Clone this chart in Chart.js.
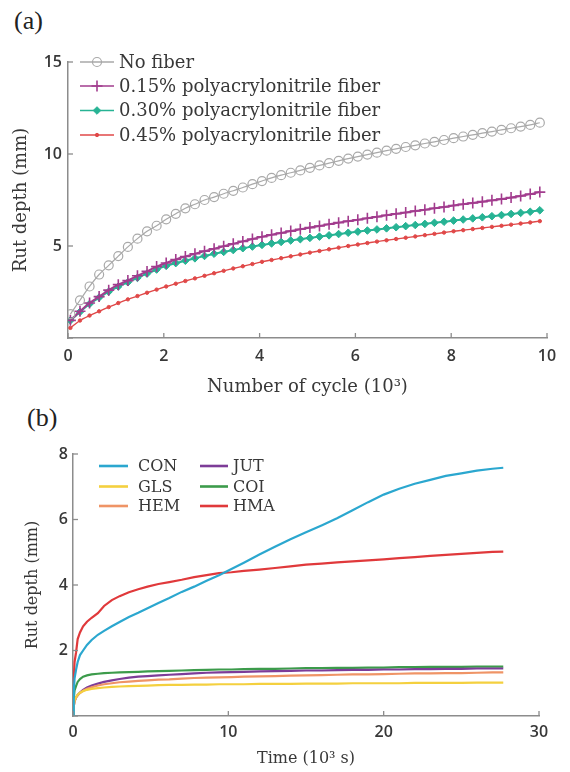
<!DOCTYPE html>
<html>
<head>
<meta charset="utf-8">
<script src="https://cdn.jsdelivr.net/npm/chart.js@4.4.1/dist/chart.umd.min.js"></script>
<style>
  html, body { margin: 0; padding: 0; background: #fff; }
  body { width: 570px; height: 772px; position: relative; overflow: hidden; }
  canvas { position: absolute; left: 0; }
  #cA { top: 0; }
  #cB { top: 400px; }
  .tag { position: absolute; font-family: "Liberation Serif", serif; font-size: 26px; line-height: 1; color: #222; }
</style>
</head>
<body>
<div class="tag" style="left:14px; top:8px;">(a)</div>
<div class="tag" style="left:27px; top:405px;">(b)</div>
<canvas id="cA" width="570" height="400"></canvas>
<canvas id="cB" width="570" height="372"></canvas>
<script>
// ---------- Chart (a) data ----------
const cycleX = [0.05,0.25,0.45,0.65,0.85,1.05,1.25,1.45,1.65,1.85,2.05,2.25,2.45,2.65,2.85,3.05,3.25,3.45,3.65,3.85,4.05,4.25,4.45,4.65,4.85,5.05,5.25,5.45,5.65,5.85,6.05,6.25,6.45,6.65,6.85,7.05,7.25,7.45,7.65,7.85,8.05,8.25,8.45,8.65,8.85,9.05,9.25,9.45,9.65,9.85];
const noFiber = [1.30,2.05,2.80,3.45,3.95,4.45,4.95,5.40,5.80,6.10,6.45,6.75,7.05,7.27,7.50,7.66,7.84,8.00,8.18,8.36,8.53,8.70,8.85,8.98,9.11,9.25,9.38,9.50,9.63,9.75,9.86,9.97,10.07,10.18,10.28,10.38,10.47,10.57,10.66,10.76,10.86,10.95,11.04,11.13,11.22,11.31,11.40,11.49,11.58,11.70];
const pan015 = [0.96,1.45,1.90,2.25,2.60,2.90,3.12,3.38,3.62,3.88,4.08,4.27,4.43,4.58,4.72,4.85,4.99,5.12,5.25,5.38,5.50,5.61,5.71,5.81,5.91,6.00,6.09,6.18,6.27,6.35,6.43,6.51,6.59,6.67,6.75,6.82,6.90,6.97,7.05,7.12,7.20,7.27,7.34,7.41,7.48,7.55,7.63,7.72,7.82,7.93];
const pan030 = [0.96,1.42,1.85,2.20,2.52,2.80,3.03,3.27,3.50,3.72,3.92,4.07,4.20,4.33,4.46,4.58,4.68,4.78,4.88,4.97,5.06,5.14,5.22,5.30,5.37,5.44,5.51,5.58,5.65,5.72,5.78,5.84,5.90,5.96,6.02,6.08,6.14,6.20,6.26,6.32,6.38,6.44,6.50,6.56,6.62,6.68,6.74,6.80,6.86,6.94];
const pan045 = [0.55,0.95,1.22,1.45,1.68,1.90,2.10,2.28,2.46,2.63,2.80,2.95,3.10,3.24,3.38,3.52,3.65,3.78,3.90,4.02,4.14,4.24,4.34,4.44,4.54,4.64,4.73,4.82,4.91,5.00,5.08,5.16,5.24,5.31,5.38,5.45,5.52,5.59,5.66,5.73,5.80,5.86,5.92,5.98,6.04,6.10,6.16,6.22,6.28,6.35];
const seriesA = ["No fiber","0.15% polyacrylonitrile fiber","0.30% polyacrylonitrile fiber","0.45% polyacrylonitrile fiber"];
const ticksAX = [0,2,4,6,8,10];
const ticksAY = [0,5,10,15];

// ---------- Chart (b) data ----------
const timeX = [0,0.05,0.1,0.2,0.3,0.45,0.65,0.9,1.2,1.6,2.0,2.5,3.0,3.6,4.2,4.8,5.5,6.2,7.0,7.8,8.6,9.4,10.2,11,12,13,14,15,16,17,18,19,20,21,22,23,24,25,26,27,27.7];
const CON = [0,0.75,1.15,1.42,1.65,1.86,2.00,2.17,2.32,2.48,2.60,2.74,2.87,3.02,3.15,3.29,3.45,3.60,3.79,3.95,4.13,4.30,4.49,4.68,4.93,5.17,5.40,5.61,5.82,6.04,6.28,6.53,6.76,6.94,7.09,7.21,7.33,7.41,7.49,7.55,7.58];
const GLS = [0,0.32,0.48,0.58,0.65,0.71,0.76,0.80,0.83,0.85,0.87,0.89,0.90,0.91,0.92,0.93,0.94,0.95,0.95,0.96,0.96,0.97,0.97,0.97,0.98,0.98,0.98,0.99,0.99,0.99,1.00,1.00,1.00,1.00,1.01,1.01,1.01,1.01,1.02,1.02,1.02];
const HEM = [0,0.30,0.45,0.56,0.63,0.70,0.77,0.83,0.88,0.93,0.97,1.00,1.03,1.05,1.07,1.09,1.11,1.12,1.14,1.16,1.17,1.18,1.19,1.20,1.21,1.22,1.23,1.24,1.25,1.26,1.27,1.27,1.28,1.29,1.30,1.30,1.31,1.31,1.32,1.33,1.33];
const JUT = [0,0.30,0.45,0.57,0.64,0.72,0.80,0.87,0.93,0.99,1.04,1.09,1.13,1.17,1.20,1.22,1.24,1.26,1.28,1.30,1.32,1.33,1.34,1.35,1.36,1.37,1.38,1.39,1.39,1.40,1.41,1.41,1.42,1.42,1.43,1.43,1.44,1.44,1.45,1.45,1.45];
const COI = [0,0.55,0.78,0.92,1.04,1.13,1.20,1.24,1.27,1.29,1.31,1.32,1.33,1.34,1.35,1.36,1.37,1.38,1.39,1.40,1.41,1.42,1.42,1.43,1.44,1.44,1.45,1.46,1.46,1.47,1.47,1.48,1.48,1.49,1.49,1.50,1.50,1.50,1.51,1.51,1.51];
const HMA = [0,1.10,1.65,1.95,2.35,2.55,2.74,2.88,3.00,3.14,3.36,3.54,3.66,3.78,3.87,3.95,4.03,4.09,4.16,4.24,4.30,4.36,4.39,4.43,4.47,4.52,4.57,4.62,4.65,4.69,4.72,4.75,4.78,4.82,4.85,4.89,4.92,4.95,4.98,5.01,5.02];
const seriesB = ["CON","GLS","HEM","JUT","COI","HMA"];
const ticksBX = [0,10,20,30];
const ticksBY = [0,2,4,6,8];

// ---------- helpers ----------
const AXIS_COLOR = '#8c8c8c';
const TEXT_COLOR = '#383838';
const SERIF = '"DejaVu Serif", serif';
const SANS = '"Open Sans", sans-serif';

function pts(xs, ys) { return xs.map((x, i) => ({ x: x, y: ys[i] })); }

const inwardTicks = {
  id: 'inwardTicks',
  afterDraw(chart, args, opts) {
    const ctx = chart.ctx, a = chart.chartArea;
    const len = opts.len || 5;
    ctx.save();
    ctx.strokeStyle = AXIS_COLOR;
    ctx.lineWidth = 1.3;
    chart.scales.x.ticks.forEach(t => {
      const px = chart.scales.x.getPixelForValue(t.value);
      ctx.beginPath(); ctx.moveTo(px, a.bottom); ctx.lineTo(px, a.bottom - len); ctx.stroke();
    });
    chart.scales.y.ticks.forEach(t => {
      const py = chart.scales.y.getPixelForValue(t.value);
      ctx.beginPath(); ctx.moveTo(a.left, py); ctx.lineTo(a.left + len, py); ctx.stroke();
    });
    ctx.restore();
  }
};

const insideLegend = {
  id: 'insideLegend',
  afterDraw(chart, args, o) {
    if (!o || !o.items) return;
    const ctx = chart.ctx;
    ctx.save();
    ctx.font = o.font;
    ctx.textBaseline = 'middle';
    ctx.textAlign = 'left';
    chart.data.datasets.forEach((ds, i) => {
      const it = o.items[i];
      ctx.strokeStyle = ds.borderColor;
      ctx.lineWidth = o.lineWidth;
      ctx.beginPath(); ctx.moveTo(it.x0, it.y); ctx.lineTo(it.x1, it.y); ctx.stroke();
      if (o.markers && ds.pointRadius > 0) {
        ctx.fillStyle = ds.pointBackgroundColor;
        ctx.strokeStyle = ds.pointBorderColor;
        ctx.lineWidth = ds.pointBorderWidth;
        Chart.helpers.drawPoint(ctx, { pointStyle: ds.pointStyle, radius: ds.pointRadius, rotation: 0, borderWidth: ds.pointBorderWidth }, (it.x0 + it.x1) / 2, it.y);
      }
      ctx.fillStyle = TEXT_COLOR;
      ctx.fillText(ds.label, it.tx, it.y + 1);
    });
    ctx.restore();
  }
};

function baseScales(cfg) {
  return {
    x: {
      type: 'linear', min: cfg.xmin, max: cfg.xmax,
      afterBuildTicks: s => { s.ticks = cfg.xticks.map(v => ({ value: v })); },
      afterFit: s => { s.height = cfg.xh; },
      grid: { display: false, drawTicks: false },
      border: { display: true, color: AXIS_COLOR, width: 1.5 },
      ticks: { padding: cfg.xpad, color: TEXT_COLOR, font: { family: SANS, size: 16, weight: '600' }, maxRotation: 0, autoSkip: false },
      title: { display: true, text: cfg.xtitle, color: TEXT_COLOR, font: { family: SERIF, size: cfg.tsize }, padding: { top: 0, bottom: cfg.xtpad } }
    },
    y: {
      type: 'linear', min: cfg.ymin, max: cfg.ymax,
      afterBuildTicks: s => { s.ticks = cfg.yticks.map(v => ({ value: v })); },
      afterFit: s => { s.width = cfg.yw; },
      grid: { display: false, drawTicks: false },
      border: { display: true, color: AXIS_COLOR, width: 1.5 },
      ticks: { padding: cfg.ypad, color: TEXT_COLOR, font: { family: SANS, size: 16, weight: '600' }, callback: v => (v === 0 ? '' : String(v)) },
      title: { display: true, text: 'Rut depth (mm)', color: TEXT_COLOR, font: { family: SERIF, size: cfg.tsize }, padding: { top: cfg.ytpad, bottom: 0 } }
    }
  };
}

// ---------- Chart (a) ----------
const stylesA = [
  { c: '#a9a9a9', lw: 1.2, ps: 'circle', r: 4.5, bg: 'rgba(255,255,255,0)', bw: 1.2 },
  { c: '#a23c8e', lw: 2, ps: 'cross', r: 5.5, bg: '#a23c8e', bw: 1.6 },
  { c: '#27b394', lw: 2, ps: 'rectRot', r: 3.8, bg: '#27b394', bw: 1 },
  { c: '#e04848', lw: 1.4, ps: 'circle', r: 1.7, bg: '#e04848', bw: 1 }
];
const valsA = [noFiber, pan015, pan030, pan045];

new Chart(document.getElementById('cA'), {
  type: 'line',
  data: {
    datasets: seriesA.map((name, i) => ({
      label: name,
      data: pts(cycleX, valsA[i]),
      borderColor: stylesA[i].c, borderWidth: stylesA[i].lw,
      pointStyle: stylesA[i].ps, pointRadius: stylesA[i].r,
      pointBackgroundColor: stylesA[i].bg, pointBorderColor: stylesA[i].c, pointBorderWidth: stylesA[i].bw,
      tension: 0.3, fill: false
    }))
  },
  options: {
    responsive: false, animation: false, devicePixelRatio: 1,
    layout: { padding: { top: 62, right: 23, left: 0, bottom: 0 } },
    plugins: {
      legend: { display: false }, tooltip: { enabled: false },
      inwardTicks: { len: 5 },
      insideLegend: {
        font: '18px ' + SERIF, lineWidth: 1.7, markers: true,
        items: [
          { x0: 80, x1: 114, tx: 119, y: 62 },
          { x0: 80, x1: 114, tx: 119, y: 86 },
          { x0: 80, x1: 114, tx: 119, y: 110.5 },
          { x0: 80, x1: 114, tx: 119, y: 135 }
        ]
      }
    },
    scales: baseScales({ xmin: 0, xmax: 10, ymin: 0, ymax: 15, xticks: ticksAX, yticks: ticksAY,
      xh: 62, yw: 68, xpad: 9, ypad: 6, xtpad: 2, ytpad: 11, tsize: 18, xtitle: 'Number of cycle (10³)' })
  },
  plugins: [inwardTicks, insideLegend]
});

// ---------- Chart (b) ----------
const colorsB = ['#2ba7cf', '#f4d03f', '#ef9466', '#7d3c98', '#3c9b4b', '#e0393b'];
const valsB = [CON, GLS, HEM, JUT, COI, HMA];

new Chart(document.getElementById('cB'), {
  type: 'line',
  data: {
    datasets: seriesB.map((name, i) => ({
      label: name,
      data: pts(timeX, valsB[i]),
      borderColor: colorsB[i], borderWidth: 2.2,
      pointRadius: 0, tension: 0, fill: false
    }))
  },
  options: {
    responsive: false, animation: false, devicePixelRatio: 1,
    layout: { padding: { top: 54, right: 31, left: 0, bottom: 0 } },
    plugins: {
      legend: { display: false }, tooltip: { enabled: false },
      inwardTicks: { len: 5 },
      insideLegend: {
        font: '16px ' + SERIF, lineWidth: 2.6, markers: false,
        items: [
          { x0: 99, x1: 128, tx: 138, y: 66 },
          { x0: 99, x1: 128, tx: 138, y: 86.5 },
          { x0: 99, x1: 128, tx: 138, y: 106 },
          { x0: 200, x1: 228, tx: 233, y: 66 },
          { x0: 200, x1: 228, tx: 233, y: 86.5 },
          { x0: 200, x1: 228, tx: 233, y: 106 }
        ]
      }
    },
    scales: baseScales({ xmin: 0, xmax: 30, ymin: 0, ymax: 8, xticks: ticksBX, yticks: ticksBY,
      xh: 56, yw: 73, xpad: 7, ypad: 5, xtpad: 4, ytpad: 23, tsize: 16, xtitle: 'Time (10³ s)' })
  },
  plugins: [inwardTicks, insideLegend]
});
</script>
</body>
</html>
